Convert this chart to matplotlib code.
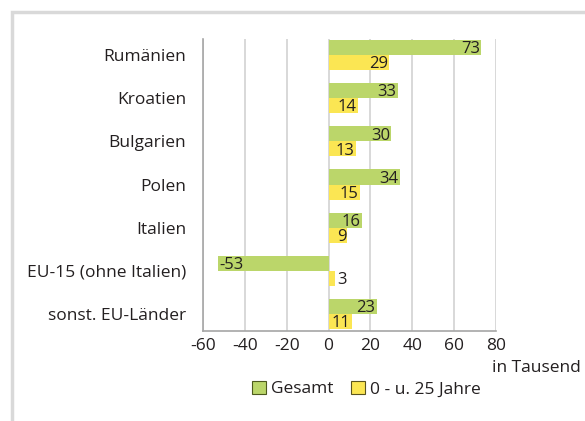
import matplotlib
matplotlib.use('Agg')
import matplotlib.pyplot as plt
import matplotlib.patches as mpatches
import numpy as np

plt.rcParams['font.family'] = ['Open Sans', 'DejaVu Sans']

# Data
countries = ['Rumänien', 'Kroatien', 'Bulgarien', 'Polen', 'Italien',
             'EU-15 (ohne Italien)', 'sonst. EU-Länder']
gesamt = [73, 33, 30, 34, 16, -53, 23]
jung = [29, 14, 13, 15, 9, 3, 11]
series_names = ['Gesamt', '0 - u. 25 Jahre']
xticks = [-60, -40, -20, 0, 20, 40, 60, 80]

green = '#bbd66a'
yellow = '#fbe653'
text_col = '#231f20'

fig = plt.figure(figsize=(5.85, 4.21), dpi=100)
ax = fig.add_axes([203 / 585, 1 - 331 / 421, 293 / 585, 292 / 421])

y = np.arange(len(countries))
h = 0.35
ax.barh(y - h / 2, gesamt, height=h, color=green, zorder=2)
ax.barh(y + h / 2, jung, height=h, color=yellow, zorder=2)

fs = 12.5


def label(val, yy):
    # inside end of the bar, outside if the bar is too short
    if abs(val) < 5:
        ax.text(val + 1.2, yy, str(val), ha='left', va='center',
                fontsize=fs - 0.5, color=text_col, zorder=3)
    elif val > 0:
        ax.text(val - 0.6, yy, str(val), ha='right', va='center',
                fontsize=fs - 0.5, color=text_col, zorder=3)
    else:
        ax.text(val + 0.8, yy, str(val), ha='left', va='center',
                fontsize=fs - 0.5, color=text_col, zorder=3)


for i in range(len(countries)):
    label(gesamt[i], y[i] - h / 2 + 0.04)
    label(jung[i], y[i] + h / 2 + 0.04)

ax.set_xlim(-60, 80)
ax.set_ylim(6.39, -0.37)
ax.set_xticks(xticks)
ax.set_xticklabels([str(t) for t in xticks], fontsize=fs, color=text_col)
ax.set_yticks(y)
ax.set_yticklabels(countries, fontsize=fs, color=text_col)
ax.tick_params(axis='both', length=0)
ax.tick_params(axis='y', pad=12)
ax.tick_params(axis='x', pad=5)

ax.grid(axis='x', color='#d6d6d6', linewidth=1.3, zorder=0)
ax.set_axisbelow(True)
for s in ['top', 'right']:
    ax.spines[s].set_visible(False)
for s in ['left', 'bottom']:
    ax.spines[s].set_color('#a6a6a6')
    ax.spines[s].set_linewidth(1.2)

ax.text(0.985, -0.098, 'in Tausend', transform=ax.transAxes, ha='left',
        va='top', fontsize=fs, color=text_col)

handles = [mpatches.Patch(facecolor=green, edgecolor='#4d5a1e', linewidth=0.8),
           mpatches.Patch(facecolor=yellow, edgecolor='#5a5420', linewidth=0.8)]
fig.legend(handles, series_names, loc='center', bbox_to_anchor=(366 / 585, 1 - 389 / 421),
           ncol=2, frameon=False, fontsize=fs, handlelength=0.85, handleheight=0.85,
           handletextpad=0.25, columnspacing=1.0, labelcolor=text_col)

# light grey frame around the chart
frame = mpatches.Rectangle((12 / 585, -0.1), 1.2, 1 - 12 / 421 + 0.1,
                           transform=fig.transFigure, fill=False,
                           edgecolor='#d9d9d9', linewidth=2.5)
fig.patches.append(frame)

fig.savefig('out.png', dpi=100)
